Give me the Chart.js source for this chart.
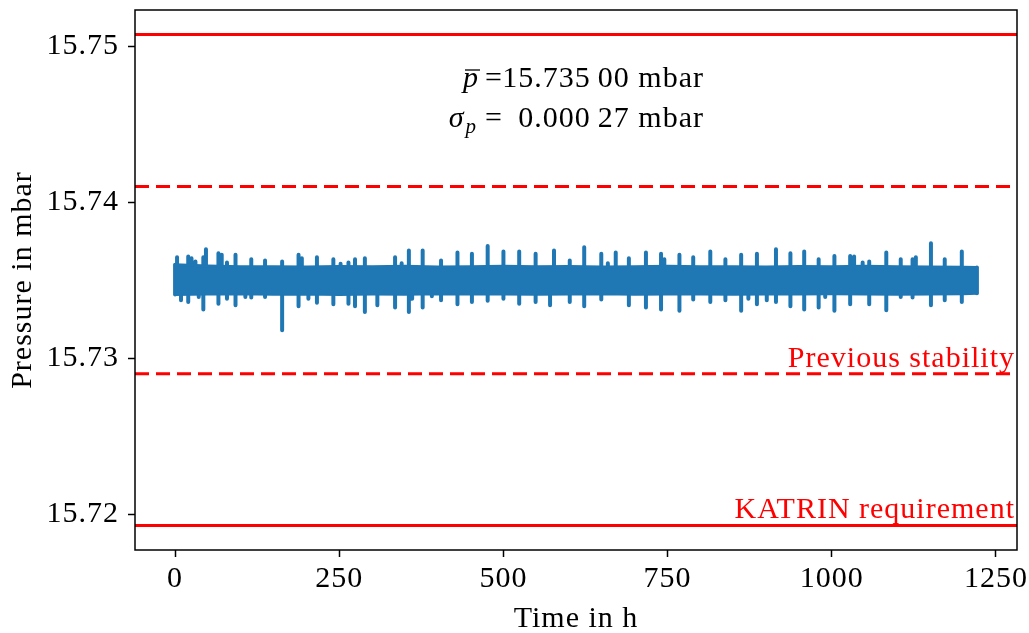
<!DOCTYPE html>
<html>
<head>
<meta charset="utf-8">
<script src="https://cdn.jsdelivr.net/npm/chart.js@4.4.1/dist/chart.umd.min.js"></script>
<style>
  html, body { margin: 0; padding: 0; background: #fff; }
</style>
</head>
<body>
<canvas id="pressureChart" width="1029" height="633"></canvas>
<script>
"use strict";

// summary of the run
const meanPressure = 15.735;
const sigmaPressure = 0.00027;

// reference bands (mbar)
const katrinBand = [15.71927, 15.75074];
const previousBand = [15.7290, 15.7410];

// dense part of the pressure trace: upper / lower envelope vs time (h)
const bandHours = [0, 50, 100, 150, 200, 250, 300, 350, 400, 450, 500, 550, 600,
    650, 700, 750, 800, 850, 900, 950, 1000, 1050, 1100, 1150, 1200, 1221];
const bandTop = [15.73598, 15.73590, 15.73585, 15.73586, 15.73584, 15.73587, 15.73585,
    15.73588, 15.73584, 15.73586, 15.73589, 15.73585, 15.73587, 15.73584, 15.73586,
    15.73588, 15.73585, 15.73586, 15.73584, 15.73587, 15.73585, 15.73588, 15.73586,
    15.73584, 15.73583, 15.73580];
const bandBottom = [15.73408, 15.73410, 15.73412, 15.73409, 15.73411, 15.73408, 15.73410,
    15.73409, 15.73412, 15.73410, 15.73411, 15.73409, 15.73410, 15.73412, 15.73409,
    15.73411, 15.73410, 15.73409, 15.73411, 15.73410, 15.73412, 15.73410, 15.73409,
    15.73411, 15.73412, 15.73415];

// excursions sticking out of the band
const spikeHours = [3, 9, 20, 25, 31, 36, 43, 47, 66, 71,
    79, 92, 107, 116, 137, 163, 188, 193, 203, 216,
    241, 252, 264, 274, 289, 308, 335, 345, 356, 361,
    377, 391, 405, 430, 452, 476, 500, 524, 549, 571,
    577, 601, 623, 649, 659, 671, 691, 717, 740, 745,
    768, 789, 815, 838, 862, 873, 886, 901, 915, 937,
    958, 980, 990, 1004, 1028, 1034, 1047, 1057, 1083, 1105,
    1123, 1128, 1151, 1172, 1198];
const spikeHigh = [15.73646, 15.73500, 15.73651, 15.73640, 15.73619, 15.73500, 15.73646, 15.73697, 15.73672, 15.73662,
    15.73612, 15.73662, 15.73500, 15.73633, 15.73625, 15.73619, 15.73662, 15.73640, 15.73500, 15.73646,
    15.73633, 15.73604, 15.73612, 15.73633, 15.73640, 15.73500, 15.73646, 15.73608, 15.73689, 15.73500,
    15.73689, 15.73500, 15.73625, 15.73676, 15.73668, 15.73719, 15.73683, 15.73683, 15.73668, 15.73500,
    15.73689, 15.73625, 15.73710, 15.73668, 15.73608, 15.73676, 15.73640, 15.73676, 15.73668, 15.73633,
    15.73662, 15.73646, 15.73683, 15.73633, 15.73662, 15.73500, 15.73668, 15.73500, 15.73697, 15.73672,
    15.73683, 15.73633, 15.73500, 15.73655, 15.73655, 15.73651, 15.73612, 15.73619, 15.73676, 15.73633,
    15.73633, 15.73646, 15.73736, 15.73633, 15.73683];
const spikeLow = [15.73500, 15.73371, 15.73360, 15.73500, 15.73500, 15.73392, 15.73311, 15.73500, 15.73349, 15.73500,
    15.73381, 15.73338, 15.73392, 15.73388, 15.73392, 15.73178, 15.73332, 15.73500, 15.73381, 15.73354,
    15.73345, 15.73500, 15.73349, 15.73332, 15.73296, 15.73338, 15.73324, 15.73500, 15.73296, 15.73381,
    15.73324, 15.73396, 15.73371, 15.73345, 15.73360, 15.73367, 15.73381, 15.73349, 15.73360, 15.73338,
    15.73500, 15.73360, 15.73332, 15.73375, 15.73500, 15.73500, 15.73338, 15.73324, 15.73311, 15.73500,
    15.73303, 15.73375, 15.73360, 15.73371, 15.73303, 15.73381, 15.73345, 15.73371, 15.73360, 15.73332,
    15.73311, 15.73324, 15.73392, 15.73303, 15.73345, 15.73500, 15.73500, 15.73345, 15.73306, 15.73392,
    15.73388, 15.73500, 15.73338, 15.73371, 15.73360];

const xTicks = [0, 250, 500, 750, 1000, 1250];
const yTicks = [15.72, 15.73, 15.74, 15.75];

const blue = '#1f77b4';
const red = '#ff0000';
const serif = "'Liberation Serif', 'Times New Roman', serif";
const spacing = '1px';

// axis limits with 5% margins like the usual autoscale
const tFirst = bandHours[0];
const tLast = bandHours[bandHours.length - 1];
const xMin = tFirst - 0.05 * (tLast - tFirst);
const xMax = tLast + 0.05 * (tLast - tFirst);
const ySpan = katrinBand[1] - katrinBand[0];
const yMin = katrinBand[0] - 0.05 * ySpan;
const yMax = katrinBand[1] + 0.05 * ySpan;

const toPoints = (xs, ys) => xs.map((x, i) => ({ x: x, y: ys[i] }));

// every excursion is a vertical stroke, separated by gaps; the two ends of the run too
const spikePoints = [];
const strokes = spikeHours.map((t, i) => [t, spikeLow[i], spikeHigh[i]]);
strokes.unshift([tFirst, bandBottom[0], bandTop[0]]);
strokes.push([tLast, bandBottom[bandBottom.length - 1], bandTop[bandTop.length - 1]]);
strokes.forEach(([t, lo, hi]) => {
    spikePoints.push({ x: t, y: lo }, { x: t, y: hi }, { x: t, y: null });
});

const hLine = (value, dash) => ({
    data: [{ x: xMin, y: value }, { x: xMax, y: value }],
    borderColor: red,
    borderWidth: 3,
    borderDash: dash,
    pointRadius: 0,
    fill: false
});

const traceStyle = {
    borderColor: blue,
    backgroundColor: blue,
    borderWidth: 3,
    pointRadius: 0,
    tension: 0,
    borderJoinStyle: 'round',
    borderCapStyle: 'round'
};

// slightly wider letter spacing on all text
const spacedText = {
    id: 'spacedText',
    beforeDraw(chart) { chart.ctx.letterSpacing = spacing; }
};

// frame, line labels and the mean / sigma block
const annotate = {
    id: 'annotate',
    afterDraw(chart) {
        const { ctx, chartArea: a, scales: { y } } = chart;
        ctx.save();
        ctx.letterSpacing = spacing;
        ctx.strokeStyle = '#000';
        ctx.lineWidth = 1.5;
        ctx.strokeRect(a.left, a.top, a.right - a.left, a.bottom - a.top);

        ctx.fillStyle = red;
        ctx.font = '30px ' + serif;
        ctx.textAlign = 'right';
        ctx.textBaseline = 'alphabetic';
        ctx.fillText('Previous stability', a.right - 2, y.getPixelForValue(previousBand[0]) - 7);
        ctx.fillText('KATRIN requirement', a.right - 2, y.getPixelForValue(katrinBand[0]) - 7);

        ctx.fillStyle = '#000';
        const xr = a.left + 569;
        const xEq = a.left + 350;
        const base1 = a.top + 77;
        const base2 = a.top + 117;

        const meanText = meanPressure.toFixed(5).replace(/(\.\d{3})(\d+)/, '$1\u2009$2');
        const sigmaText = sigmaPressure.toFixed(5).replace(/(\.\d{3})(\d+)/, '$1\u2009$2');

        ctx.textAlign = 'right';
        ctx.fillText(meanText + ' mbar', xr, base1);
        ctx.fillText(sigmaText + ' mbar', xr, base2);
        ctx.textAlign = 'left';
        ctx.fillText('=', xEq, base1);
        ctx.fillText('=', xEq, base2);

        // p with a bar
        ctx.font = 'italic 30px ' + serif;
        ctx.textAlign = 'right';
        const pw = ctx.measureText('p').width;
        ctx.fillText('p', xEq - 6, base1);
        ctx.lineWidth = 1.3;
        ctx.beginPath();
        ctx.moveTo(xEq - 6 - pw + 2, base1 - 17);
        ctx.lineTo(xEq - 6 + 1, base1 - 17);
        ctx.stroke();

        // sigma with subscript p
        ctx.font = 'italic 21px ' + serif;
        ctx.fillText('p', xEq - 8, base2 + 6);
        const sw = ctx.measureText('p').width;
        ctx.font = 'italic 30px ' + serif;
        ctx.fillText('\u03c3', xEq - 8 - sw - 1, base2);
        ctx.restore();
    }
};

const ctx = document.getElementById('pressureChart');

new Chart(ctx, {
    type: 'line',
    data: {
        datasets: [
            Object.assign({}, traceStyle, { data: toPoints(bandHours, bandTop), fill: '+1' }),
            Object.assign({}, traceStyle, { data: toPoints(bandHours, bandBottom), fill: false }),
            Object.assign({}, traceStyle, { data: spikePoints, fill: false, spanGaps: false, borderWidth: 4 }),
            hLine(katrinBand[1], []),
            hLine(previousBand[1], [14, 7]),
            hLine(previousBand[0], [14, 7]),
            hLine(katrinBand[0], [])
        ]
    },
    options: {
        responsive: false,
        animation: false,
        layout: { padding: { top: 10, right: 12, left: 0, bottom: 0 } },
        plugins: {
            legend: { display: false },
            tooltip: { enabled: false }
        },
        scales: {
            x: {
                type: 'linear',
                min: xMin,
                max: xMax,
                offset: false,
                afterBuildTicks: axis => { axis.ticks = xTicks.map(v => ({ value: v })); },
                afterFit: axis => { axis.height = 83; axis.paddingLeft = 0; axis.paddingRight = 0; },
                grid: { display: true, drawOnChartArea: false, drawTicks: true, tickLength: 7, tickWidth: 1.5, tickColor: '#000' },
                border: { display: false },
                ticks: {
                    color: '#000',
                    font: { family: serif, size: 30 },
                    padding: 4,
                    maxRotation: 0,
                    autoSkip: false,
                    callback: v => String(v)
                },
                title: {
                    display: true,
                    text: 'Time in h',
                    color: '#000',
                    font: { family: serif, size: 30 },
                    padding: { top: 0, bottom: -4 }
                }
            },
            y: {
                type: 'linear',
                min: yMin,
                max: yMax,
                afterBuildTicks: axis => { axis.ticks = yTicks.map(v => ({ value: v })); },
                afterFit: axis => { axis.width = 135; axis.paddingTop = 0; axis.paddingBottom = 0; },
                grid: { display: true, drawOnChartArea: false, drawTicks: true, tickLength: 7, tickWidth: 1.5, tickColor: '#000' },
                border: { display: false },
                ticks: {
                    color: '#000',
                    font: { family: serif, size: 30 },
                    padding: 9,
                    autoSkip: false,
                    callback: v => v.toFixed(2)
                },
                title: {
                    display: true,
                    text: 'Pressure in mbar',
                    color: '#000',
                    font: { family: serif, size: 30 },
                    padding: { top: 5, bottom: 0 }
                }
            }
        }
    },
    plugins: [spacedText, annotate]
});
</script>
</body>
</html>
